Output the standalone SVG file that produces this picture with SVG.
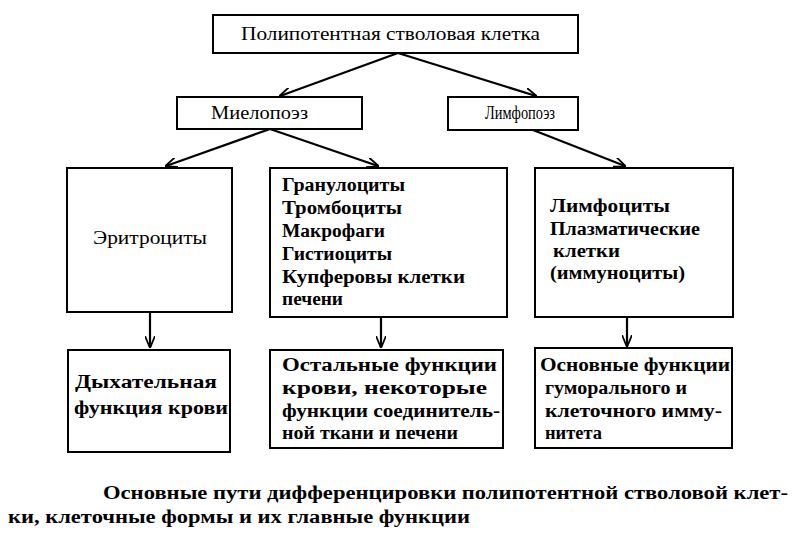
<svg xmlns="http://www.w3.org/2000/svg" width="798" height="539" viewBox="0 0 798 539">
<style>
.box{fill:#fff;stroke:#000;stroke-width:2}
.t{font-family:"Liberation Serif","DejaVu Serif",serif;font-size:18px;fill:#000}
.b{font-weight:bold}
.c{text-anchor:middle}
.ln{stroke:#000;stroke-width:2.2;fill:none}
</style>
<defs>
<marker id="ah" viewBox="0 0 12 10" refX="11" refY="5" markerWidth="12" markerHeight="10" markerUnits="userSpaceOnUse" orient="auto">
<path d="M0,0 L12,5 L0,10" fill="none" stroke="#000" stroke-width="1.8"/>
</marker>
</defs>
<rect width="798" height="539" fill="#fff"/>
<g id="connectors">
<line class="ln" x1="398" y1="53" x2="280" y2="96" marker-end="url(#ah)"/>
<line class="ln" x1="398" y1="53" x2="536" y2="96" marker-end="url(#ah)"/>
<line class="ln" x1="270" y1="129" x2="166" y2="166" marker-end="url(#ah)"/>
<line class="ln" x1="270" y1="129" x2="378" y2="166" marker-end="url(#ah)"/>
<line class="ln" x1="533" y1="130" x2="625" y2="166" marker-end="url(#ah)"/>
<line class="ln" x1="150" y1="313" x2="150" y2="347" marker-end="url(#ah)"/>
<line class="ln" x1="381" y1="318" x2="381" y2="347" marker-end="url(#ah)"/>
<line class="ln" x1="627" y1="318" x2="627" y2="346" marker-end="url(#ah)"/>
</g>
<g id="stem">
<rect class="box" x="213" y="15" width="365" height="38"/>
<text class="t" x="241" y="40" textLength="299" lengthAdjust="spacingAndGlyphs">Полипотентная стволовая клетка</text>
</g>
<g id="myelo">
<rect class="box" x="177" y="97" width="185" height="32"/>
<text class="t" x="211" y="119" textLength="97" lengthAdjust="spacingAndGlyphs">Миелопоэз</text>
</g>
<g id="lympho">
<rect class="box" x="448" y="97" width="130" height="33"/>
<text class="t" x="485" y="119" textLength="70" lengthAdjust="spacingAndGlyphs">Лимфопоэз</text>
</g>
<g id="erythro">
<rect class="box" x="67" y="168" width="165" height="144"/>
<text class="t" x="93" y="244" textLength="114" lengthAdjust="spacingAndGlyphs">Эритроциты</text>
</g>
<g id="granulo">
<rect class="box" x="270" y="168" width="237" height="149"/>
<text class="t b" x="282" y="191" textLength="123" lengthAdjust="spacingAndGlyphs">Гранулоциты</text>
<text class="t b" x="282" y="214" textLength="120" lengthAdjust="spacingAndGlyphs">Тромбоциты</text>
<text class="t b" x="282" y="237" textLength="103" lengthAdjust="spacingAndGlyphs">Макрофаги</text>
<text class="t b" x="282" y="260" textLength="110" lengthAdjust="spacingAndGlyphs">Гистиоциты</text>
<text class="t b" x="282" y="283" textLength="183" lengthAdjust="spacingAndGlyphs">Купферовы  клетки</text>
<text class="t b" x="282" y="305" textLength="61" lengthAdjust="spacingAndGlyphs">печени</text>
</g>
<g id="lymphocytes">
<rect class="box" x="535" y="168" width="198" height="149"/>
<text class="t b" x="550" y="212" textLength="120" lengthAdjust="spacingAndGlyphs">Лимфоциты</text>
<text class="t b" x="550" y="235" textLength="150" lengthAdjust="spacingAndGlyphs">Плазматические</text>
<text class="t b" x="553" y="257" textLength="67" lengthAdjust="spacingAndGlyphs">клетки</text>
<text class="t b" x="550" y="279" textLength="135" lengthAdjust="spacingAndGlyphs">(иммуноциты)</text>
</g>
<g id="resp">
<rect class="box" x="68" y="350" width="162" height="102"/>
<text class="t b" x="75" y="388" textLength="142" lengthAdjust="spacingAndGlyphs">Дыхательная</text>
<text class="t b" x="74" y="414" textLength="154" lengthAdjust="spacingAndGlyphs">функция крови</text>
</g>
<g id="other">
<rect class="box" x="270" y="350" width="233" height="98"/>
<text class="t b" x="282" y="371" textLength="215" lengthAdjust="spacingAndGlyphs">Остальные функции</text>
<text class="t b" x="282" y="394" textLength="205" lengthAdjust="spacingAndGlyphs">крови,  некоторые</text>
<text class="t b" x="282" y="417" textLength="218" lengthAdjust="spacingAndGlyphs">функции соединитель-</text>
<text class="t b" x="282" y="439" textLength="176" lengthAdjust="spacingAndGlyphs">ной ткани и печени</text>
</g>
<g id="immune">
<rect class="box" x="535" y="348" width="197" height="100"/>
<text class="t b" x="540" y="371" textLength="190" lengthAdjust="spacingAndGlyphs">Основные функции</text>
<text class="t b" x="545" y="394" textLength="142" lengthAdjust="spacingAndGlyphs">гуморального  и</text>
<text class="t b" x="545" y="417" textLength="177" lengthAdjust="spacingAndGlyphs">клеточного имму-</text>
<text class="t b" x="545" y="439" textLength="57" lengthAdjust="spacingAndGlyphs">нитета</text>
</g>
<g id="caption">
<text class="t b" x="103" y="499" font-size="17" textLength="685" lengthAdjust="spacingAndGlyphs">Основные пути дифференцировки полипотентной стволовой клет-</text>
<text class="t b" x="8" y="523" font-size="17" textLength="462" lengthAdjust="spacingAndGlyphs">ки, клеточные формы и их главные функции</text>
</g>
</svg>
